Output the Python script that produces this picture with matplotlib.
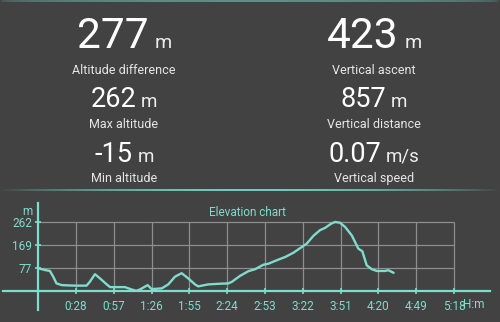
import numpy as np
import matplotlib.pyplot as plt
from matplotlib.colors import to_rgb

plt.rcParams['font.family'] = ['Roboto', 'DejaVu Sans']

BG = '#424242'
TEAL = '#80dccd'
GRID = '#8e8e8e'
W, H = 500, 322

# summary figures, left column then right column
stat_values = ['277', '262', '-15', '423', '857', '0.07']
stat_units = ['m', 'm', 'm', 'm', 'm', 'm/s']
stat_labels = ['Altitude difference', 'Max altitude', 'Min altitude',
               'Vertical ascent', 'Vertical distance', 'Vertical speed']

# elevation track (minutes, metres)
time_min = [0, 5, 9, 11.5, 14, 18, 28, 37, 39.6, 43.4, 47.3, 52.4, 55, 66.4,
            69, 73, 75, 78, 83.7, 86.8, 94.5, 99.5, 104.6, 109.7, 114.8,
            119.9, 122.4, 130.1, 140.3, 145.4, 148, 154.3, 160.7, 165.8,
            172.2, 176, 182.4, 188.8, 195.1, 201.5, 205.4, 210.4, 215.5,
            219.3, 224, 227, 230.8, 234.7, 239.8, 244.8, 247.9, 251.2, 255.1,
            258.9, 265.2, 267.8, 271.6]
elev_m = [76, 69, 65, 42, 15, 8, 6, 6, 22, 52, 35, 11, 0, 0,
          -5, -12, -15, -9, 8, -8, -5, 11, 42, 56, 35,
          11, 3, 11, 14, 15, 21, 45, 64, 72,
          90, 94, 108, 121, 138, 161, 175, 206, 229,
          238, 255, 262, 259, 242, 208, 155, 144, 88, 72,
          65, 65, 68, 58]

min_alt = -15
y_ticks = [77, 169, 262]
x_ticks = [28.9, 57.8, 86.7, 115.6, 144.5, 173.5, 202.4, 231.3, 260.2, 289.1, 318.0]
x_tick_labels = ['0:28', '0:57', '1:26', '1:55', '2:24', '2:53', '3:22',
                 '3:51', '4:20', '4:49', '5:18']

fig = plt.figure(figsize=(W / 100, H / 100), dpi=100, facecolor=BG)


def fx(px):
    return px / W


def fy(py):
    return 1 - py / H


def glow_line(y_px, h_px, color, x0, x1, power=0.6):
    # thin horizontal bar that fades out towards both ends
    lax = fig.add_axes([fx(x0), fy(y_px + h_px), (x1 - x0) / W, h_px / H])
    lax.axis('off')
    img = np.zeros((1, 300, 4))
    img[..., :3] = to_rgb(color)
    img[..., 3] = np.sin(np.linspace(0, np.pi, 300)) ** power
    lax.imshow(img, aspect='auto', interpolation='bilinear')


glow_line(0, 2.5, '#5f8f88', 0, 500, power=0.3)
glow_line(189, 1.8, '#74cbbd', 0, 500, power=0.8)

# stat blocks
renderer = fig.canvas.get_renderer()
col_centers = [124, 374]
value_base = [48, 107, 162]
label_base = [74, 128, 182]
value_size = [30.5, 19.5, 19.5]
unit_size = [14, 13.5, 13.5]
gaps = [6, 5, 5]
for i in range(6):
    col, row = divmod(i, 3)
    cx = col_centers[col]
    tv = fig.text(0, fy(value_base[row]), stat_values[i], color='white',
                  fontsize=value_size[row], ha='left', va='baseline')
    tu = fig.text(0, fy(value_base[row]), stat_units[i], color='#eeeeee',
                  fontsize=unit_size[row], ha='left', va='baseline')
    wv = tv.get_window_extent(renderer).width
    wu = tu.get_window_extent(renderer).width
    left = cx - (wv + gaps[row] + wu) / 2
    tv.set_x(fx(left))
    tu.set_x(fx(left + wv + gaps[row]))
    fig.text(fx(cx), fy(label_base[row]), stat_labels[i], color='#e6e6e6',
             fontsize=9, ha='center', va='baseline')

# elevation chart
ax = fig.add_axes([fx(3), fy(310), 487 / W, 107 / H])
ax.set_facecolor('none')
ax.set_xlim(-26.9, 345.5)
ax.set_ylim(-92, 338.3)
for s in ['top', 'right']:
    ax.spines[s].set_visible(False)
ax.spines['left'].set_position(('data', 0))
ax.spines['bottom'].set_position(('data', min_alt))
for s in ['left', 'bottom']:
    ax.spines[s].set_color(TEAL)
    ax.spines[s].set_linewidth(1.6)

ax.hlines(y_ticks, 0, x_ticks[-1], color=GRID, lw=0.9, zorder=1)
ax.vlines(x_ticks, min_alt, y_ticks[-1], color=GRID, lw=0.9, zorder=1)
ax.plot(time_min, elev_m, color=TEAL, lw=1.7, zorder=3)

ax.set_xticks(x_ticks, x_tick_labels)
ax.set_yticks(y_ticks, [str(v) for v in y_ticks])
ax.tick_params(axis='both', direction='inout', length=5, width=1.2,
               color=TEAL, labelcolor=TEAL, labelsize=8.5)
ax.tick_params(axis='x', pad=4)
ax.tick_params(axis='y', pad=2)

fig.text(fx(247), fy(216), 'Elevation chart', color=TEAL, fontsize=8.5,
         ha='center', va='baseline')
fig.text(fx(32.5), fy(215), 'm', color=TEAL, fontsize=8.5, ha='right', va='baseline')
fig.text(fx(463.5), fy(308.5), 'H:m', color=TEAL, fontsize=8.5, ha='left', va='baseline')

fig.savefig('out.png', dpi=100, facecolor=BG)
